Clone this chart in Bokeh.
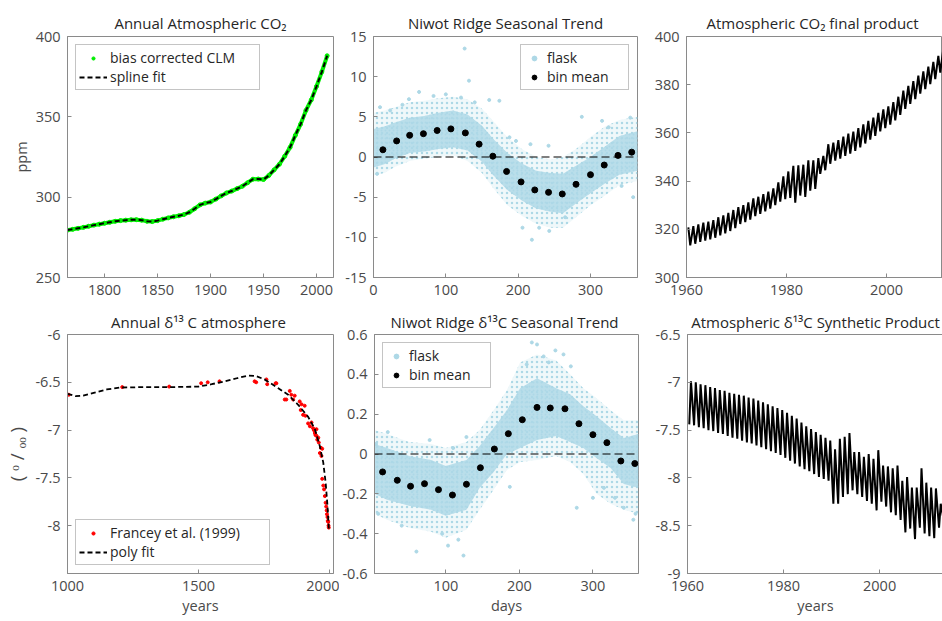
from bokeh.plotting import figure
from bokeh.layouts import row, column
from bokeh.models import FixedTicker, Span, PrintfTickFormatter
from bokeh.embed import file_html
from bokeh.resources import INLINE

# ---------------- data ----------------
# Panel 1: annual atmospheric CO2 (ppm)
co2_years = [1765, 1770, 1775, 1780, 1785, 1790, 1795, 1800, 1805, 1810, 1815, 1820,
             1825, 1830, 1835, 1840, 1845, 1850, 1855, 1860, 1865, 1870, 1875, 1880,
             1885, 1890, 1895, 1900, 1905, 1910, 1915, 1920, 1925, 1930, 1935, 1940,
             1945, 1950, 1955, 1960, 1965, 1970, 1975, 1980, 1985, 1990, 1995, 2000,
             2005, 2010]
co2_ppm = [279.5, 280.0, 280.6, 281.2, 281.9, 282.6, 283.2, 283.8, 284.4, 285.0, 285.4, 285.7,
           285.9, 286.0, 285.7, 285.0, 284.8, 285.4, 286.3, 287.1, 287.8, 288.4, 289.2, 290.6,
           292.8, 295.2, 296.3, 297.0, 298.8, 300.8, 302.6, 303.8, 305.3, 306.8, 309.0, 311.2,
           311.3, 311.0, 313.5, 317.0, 320.5, 325.5, 331.0, 338.5, 345.5, 354.0, 360.5, 369.0,
           378.0, 388.0]

# Panel 2: Niwot Ridge seasonal CO2 trend
p2_env_days = [0, 15, 30, 50, 70, 90, 110, 130, 150, 165, 185, 205, 225, 245, 262, 280, 300, 320, 340, 365]
p2_core_hi = [3.5, 3.8, 4.3, 4.9, 5.1, 5.5, 5.8, 5.3, 3.9, 2.3, 0.5, -0.8, -1.7, -2.0, -2.1, -1.1, 0.0, 1.3, 2.6, 3.2]
p2_core_lo = [-1.3, -0.9, -0.2, 0.5, 0.7, 1.0, 1.2, 0.8, -0.6, -2.2, -4.1, -5.4, -6.4, -6.8, -7.0, -5.8, -4.5, -3.3, -2.2, -1.7]
p2_outer_hi = [5.5, 5.8, 6.2, 6.8, 7.0, 7.3, 7.5, 7.2, 6.0, 4.5, 2.5, 1.0, 0.0, -0.3, 0.0, 1.0, 2.5, 3.8, 4.6, 5.0]
p2_outer_lo = [-2.3, -2.0, -1.2, -0.5, -0.2, 0.0, 0.2, -0.5, -2.0, -3.8, -6.0, -7.3, -8.3, -8.8, -8.8, -7.5, -6.0, -4.8, -3.5, -3.0]
p2_flask_days = [126, 132, 63, 83, 49, 121, 160, 174, 288, 188, 197, 217, 242, 219, 229, 243, 265,
                 206, 355, 359, 343, 5, 23, 9, 316, 325, 40, 100, 140]
p2_flask_vals = [13.5, 9.5, 8.1, 7.6, 7.2, 7.4, 7.1, 7.0, 5.0, 2.45, 2.0, 1.6, 1.4, -10.3, -8.8, -9.2, -7.5,
                 -8.8, 4.9, -5.0, -3.6, -2.1, 5.8, 6.2, 4.5, 3.7, 6.5, 7.8, 6.8]
p2_bin_days = [13, 32, 50, 69, 88, 107, 127, 146, 165, 184, 204, 223, 242, 261, 280, 300, 319, 338, 357]
p2_bin_mean = [0.9, 2.0, 2.7, 2.9, 3.3, 3.5, 3.0, 1.6, 0.1, -1.8, -3.1, -4.1, -4.4, -4.6, -3.4, -2.2, -1.0, 0.2, 0.6]

# Panel 3: atmospheric CO2 final product (annual peak / trough of the seasonal cycle)
co2f_years = list(range(1960, 2012))
co2f_peak = [320.8, 321.3, 322.0, 322.8, 323.2, 323.8, 325.0, 325.8, 326.8, 328.0,
             329.2, 330.0, 331.2, 332.8, 333.5, 334.6, 335.6, 337.0, 339.5, 342.0,
             344.0, 346.3, 346.5, 346.8, 348.6, 348.6, 349.5, 350.5, 355.3, 356.0,
             357.0, 358.5, 359.7, 360.5, 362.0, 363.5, 365.0, 366.3, 368.3, 369.8,
             371.0, 372.8, 375.0, 377.5, 379.5, 381.5, 383.8, 385.5, 387.5, 389.5,
             392.0, 395.0]
co2f_trough = [313.3, 314.0, 314.8, 315.3, 315.8, 316.5, 317.5, 318.3, 319.3, 320.5,
               322.2, 323.0, 324.0, 325.5, 326.4, 327.4, 328.6, 330.0, 331.5, 332.5,
               333.0, 331.0, 334.0, 333.4, 336.0, 336.8, 343.0, 344.5, 347.2, 348.5,
               349.3, 350.5, 351.4, 352.5, 354.0, 355.6, 357.2, 358.8, 360.6, 362.0,
               363.4, 365.2, 367.5, 370.0, 372.0, 374.0, 376.3, 378.2, 380.2, 382.3,
               385.0, 387.5]

# Panel 4: annual d13C atmosphere
d13_fit_years = [1000, 1030, 1060, 1100, 1150, 1200, 1300, 1400, 1500, 1550, 1600, 1650, 1690,
                 1720, 1752, 1803, 1842, 1880, 1918, 1944, 1963, 1976, 1985, 1992, 1997]
d13_fit = [-6.62, -6.645, -6.64, -6.61, -6.575, -6.555, -6.55, -6.55, -6.545, -6.52, -6.49, -6.455, -6.43,
           -6.435, -6.47, -6.56, -6.63, -6.735, -6.86, -6.99, -7.17, -7.34, -7.55, -7.79, -8.03]
francey_years = [1005, 1209, 1388, 1510, 1535, 1580, 1714, 1720, 1759, 1762, 1794, 1797, 1829, 1835,
                 1848, 1854, 1861, 1867, 1886, 1890, 1893, 1899, 1905, 1908, 1918, 1925, 1931, 1937,
                 1940, 1944, 1946, 1950, 1950, 1953, 1957, 1959, 1963, 1967, 1969, 1972, 1972, 1976,
                 1979, 1982, 1985, 1987, 1989, 1990, 1992, 1993, 1995, 1996, 1997]
francey_vals = [-6.63, -6.55, -6.545, -6.51, -6.50, -6.49, -6.49, -6.50, -6.47, -6.52, -6.51, -6.51, -6.68, -6.68,
                -6.59, -6.63, -6.68, -6.64, -6.70, -6.79, -6.73, -6.84, -6.745, -6.85, -6.93, -6.96, -6.92, -6.98,
                -7.00, -7.03, -7.05, -6.99, -7.06, -7.10, -7.08, -7.13, -7.24, -7.185, -7.27, -7.195, -7.51, -7.58,
                -7.62, -7.69, -7.76, -7.80, -7.84, -7.88, -7.91, -7.95, -7.96, -8.00, -8.02]

# Panel 5: Niwot Ridge seasonal d13C trend
p5_env_days = [3, 20, 50, 80, 100, 128, 146, 165, 183, 201, 224, 250, 269, 287, 305, 324, 342, 362]
p5_core_hi = [0.05, 0.03, -0.01, -0.03, -0.06, -0.03, 0.04, 0.13, 0.22, 0.33, 0.38, 0.33, 0.30, 0.24, 0.19, 0.13, 0.08, 0.10]
p5_core_lo = [-0.20, -0.23, -0.26, -0.28, -0.31, -0.28, -0.17, -0.09, 0.00, 0.03, 0.07, 0.09, 0.06, 0.03, -0.02, -0.07, -0.15, -0.17]
p5_outer_hi = [0.12, 0.10, 0.06, 0.05, 0.03, 0.06, 0.12, 0.22, 0.32, 0.46, 0.50, 0.47, 0.40, 0.33, 0.28, 0.22, 0.17, 0.17]
p5_outer_lo = [-0.30, -0.33, -0.37, -0.39, -0.42, -0.38, -0.28, -0.18, -0.08, -0.04, -0.03, -0.01, -0.04, -0.10, -0.20, -0.25, -0.28, -0.30]
p5_flask_days = [217, 224, 249, 260, 233, 210, 60, 124, 103, 117, 21, 78, 128, 110, 278, 315, 342, 358,
                 187, 8, 5, 40, 95, 300, 330, 355, 240, 270]
p5_flask_vals = [0.56, 0.55, 0.52, 0.50, 0.49, 0.45, -0.49, -0.51, -0.46, -0.43, 0.11, 0.07, 0.085, 0.03,
                 -0.27, -0.17, -0.27, -0.30, -0.165, -0.30, 0.05, -0.36, -0.40, -0.22, -0.22, -0.33, 0.46, 0.44]
p5_bin_days = [14, 34, 52, 71, 90, 109, 128, 147, 166, 185, 204, 224, 242, 262, 281, 300, 319, 338, 357]
p5_bin_mean = [-0.09, -0.132, -0.162, -0.149, -0.179, -0.206, -0.152, -0.069, 0.025, 0.102, 0.172, 0.234,
               0.231, 0.227, 0.152, 0.097, 0.057, -0.035, -0.048]

# Panel 6: atmospheric d13C synthetic product (annual high / low of the seasonal cycle)
d13s_years = list(range(1960, 2014))
d13s_hi = [-6.99, -7.00, -7.02, -7.03, -7.05, -7.06, -7.08, -7.09, -7.11, -7.12,
           -7.13, -7.14, -7.16, -7.17, -7.19, -7.21, -7.23, -7.25, -7.27, -7.29,
           -7.32, -7.35, -7.38, -7.42, -7.46, -7.49, -7.52, -7.55, -7.58, -7.61,
           -7.70, -7.59, -7.57, -7.53, -7.73, -7.73, -7.78, -7.75, -7.80, -7.71,
           -7.87, -7.88, -7.90, -7.87, -8.03, -7.99, -8.10, -8.10, -7.90, -8.05,
           -8.10, -8.11, -8.27, -8.38]
d13s_lo = [-7.44, -7.45, -7.47, -7.48, -7.50, -7.51, -7.53, -7.54, -7.56, -7.58,
           -7.59, -7.61, -7.63, -7.64, -7.66, -7.68, -7.70, -7.72, -7.74, -7.76,
           -7.79, -7.82, -7.85, -7.88, -7.91, -7.93, -7.96, -7.99, -8.01, -8.03,
           -8.27, -8.27, -8.20, -8.17, -8.13, -8.17, -8.20, -8.24, -8.27, -8.34,
           -8.25, -8.30, -8.36, -8.39, -8.44, -8.57, -8.53, -8.64, -8.52, -8.58,
           -8.61, -8.63, -8.52, -8.45]

# ---------------- styling ----------------
FONT = "Open Sans"
TXT = "#262626"
TICK = "#4a4a4a"
FRAME = "#8a8a8a"
LIGHTBLUE = "#add8e6"
TITLE_FS = "15px"
TICK_FS = "14.5px"
LEG_FS = "14px"


def make_fig(title, xr, yr, xt, yt, fw, fh, bl, br, bt, bb, title_standoff,
             xlab=None, ylab=None, ylab_fs=TICK_FS):
    p = figure(frame_width=fw, frame_height=fh, x_range=xr, y_range=yr,
               output_backend="svg", toolbar_location=None,
               min_border_left=bl, min_border_right=br,
               min_border_top=bt, min_border_bottom=bb,
               background_fill_color="white", border_fill_color="white")
    p.title.text = title
    p.title.align = "center"
    p.title.text_font = FONT
    p.title.text_font_size = TITLE_FS
    p.title.text_font_style = "normal"
    p.title.text_color = TXT
    p.title.standoff = title_standoff
    p.grid.visible = False
    p.outline_line_color = FRAME
    p.outline_line_width = 1
    p.outline_line_alpha = 1.0
    for ax, ticks in ((p.xaxis[0], xt), (p.yaxis[0], yt)):
        ax.ticker = FixedTicker(ticks=ticks)
        ax.formatter = PrintfTickFormatter(format="%g")
        ax.minor_tick_line_color = None
        ax.major_tick_in = 4
        ax.major_tick_out = 0
        ax.major_tick_line_color = FRAME
        ax.axis_line_color = FRAME
        ax.major_label_text_font = FONT
        ax.major_label_text_font_size = TICK_FS
        ax.major_label_text_color = TICK
        ax.major_label_standoff = 7
        ax.axis_label_text_font = FONT
        ax.axis_label_text_font_size = TICK_FS
        ax.axis_label_text_font_style = "normal"
        ax.axis_label_text_color = TICK
        ax.axis_label_standoff = 2
    if xlab:
        p.xaxis[0].axis_label = xlab
    if ylab:
        p.yaxis[0].axis_label = ylab
        p.yaxis[0].axis_label_text_font_size = ylab_fs
    return p


def style_legend(p, loc, glyph_w, glyph_h, label_w):
    lg = p.legend[0]
    lg.location = loc
    lg.margin = 8
    lg.padding = 3
    lg.spacing = 0
    lg.glyph_width = glyph_w
    lg.glyph_height = glyph_h
    lg.label_width = label_w
    lg.label_height = 16
    lg.label_standoff = 3
    lg.label_text_font = FONT
    lg.label_text_font_size = LEG_FS
    lg.label_text_color = TXT
    lg.border_line_color = FRAME
    lg.border_line_width = 1
    lg.background_fill_color = "white"
    lg.background_fill_alpha = 1.0


def cloud(p, days, outer_lo, outer_hi, core_lo, core_hi):
    p.varea(x=days, y1=outer_lo, y2=outer_hi, fill_color=LIGHTBLUE, fill_alpha=0.18,
            hatch_pattern="dot", hatch_color=LIGHTBLUE, hatch_scale=5, hatch_weight=2.2)
    p.varea(x=days, y1=core_lo, y2=core_hi, fill_color=LIGHTBLUE, fill_alpha=0.82,
            hatch_pattern="dot", hatch_color=LIGHTBLUE, hatch_scale=4, hatch_weight=2.5)


def zero_line(p):
    p.add_layout(Span(location=0, dimension="width", line_color="black",
                      line_width=1.2, line_dash="8 4"))


W1, W2, W3 = 266, 264, 256
H1, H2 = 241, 239

# ---- top row ----
p1 = make_fig("Annual Atmospheric CO₂", (1765, 2016), (250, 400),
              [1800, 1850, 1900, 1950, 2000], [250, 300, 350, 400],
              W1, H1, 67, 6, 36, 27, 8, ylab="ppm")
p1.line(co2_years, co2_ppm, line_color="#00ee00", line_width=4)
p1.scatter(co2_years, co2_ppm, size=4, color="#00ee00", legend_label="bias corrected CLM")
p1.line(co2_years, co2_ppm, line_color="black", line_width=2, line_dash="5 3", legend_label="spline fit")
style_legend(p1, "top_left", 28, 8, 146)

p2 = make_fig("Niwot Ridge Seasonal Trend", (0, 365), (-15, 15),
              [0, 100, 200, 300], [-15, -10, -5, 0, 5, 10, 15],
              W2, H1, 34, 7, 36, 27, 8)
cloud(p2, p2_env_days, p2_outer_lo, p2_outer_hi, p2_core_lo, p2_core_hi)
p2.scatter(p2_flask_days, p2_flask_vals, size=3, color=LIGHTBLUE, legend_label="flask")
zero_line(p2)
p2.scatter(p2_bin_days, p2_bin_mean, size=6, color="black", legend_label="bin mean")
style_legend(p2, "top_right", 20, 12, 78)

p3 = make_fig("Atmospheric CO₂  final product", (1960, 2011.2), (300, 400),
              [1960, 1980, 2000], [300, 320, 340, 360, 380, 400],
              W3, H1, 42, 0, 36, 27, 8)
x3, y3 = [], []
for yr, hi, lo in zip(co2f_years, co2f_peak, co2f_trough):
    x3 += [yr + 0.37, yr + 0.75]
    y3 += [hi, lo]
p3.line(x3, y3, line_color="black", line_width=2)

# ---- bottom row ----
p4 = make_fig("Annual  δ¹³ C atmosphere", (1000, 2015), (-8.5, -6),
              [1000, 1500, 2000], [-8, -7.5, -7, -6.5, -6],
              W1, H2, 67, 6, 30, 47, 5, xlab="years", ylab="( ᵒ / ₒₒ )", ylab_fs="19px")
p4.scatter(francey_years, francey_vals, size=3, color="red", legend_label="Francey et al. (1999)")
p4.line(d13_fit_years, d13_fit, line_color="black", line_width=1.8, line_dash="5 3", legend_label="poly fit")
style_legend(p4, "bottom_left", 28, 8, 156)

p5 = make_fig("Niwot Ridge δ¹³C  Seasonal Trend", (3, 362), (-0.6, 0.6),
              [100, 200, 300], [-0.6, -0.4, -0.2, 0, 0.2, 0.4, 0.6],
              W2, H2, 34, 7, 30, 47, 5, xlab="days")
cloud(p5, p5_env_days, p5_outer_lo, p5_outer_hi, p5_core_lo, p5_core_hi)
p5.scatter(p5_flask_days, p5_flask_vals, size=3, color=LIGHTBLUE, legend_label="flask")
zero_line(p5)
p5.scatter(p5_bin_days, p5_bin_mean, size=6, color="black", legend_label="bin mean")
style_legend(p5, "top_left", 20, 12, 78)

p6 = make_fig("Atmospheric δ¹³C Synthetic Product", (1960, 2013.3), (-9, -6.5),
              [1960, 1980, 2000], [-9, -8.5, -8, -7.5, -7, -6.5],
              W3, H2, 42, 0, 30, 47, 5, xlab="years")
x6, y6 = [], []
for yr, hi, lo in zip(d13s_years, d13s_hi, d13s_lo):
    x6 += [yr + 0.37, yr + 0.72]
    y6 += [lo, hi]
p6.line(x6, y6, line_color="black", line_width=2)

layout = column(row(p1, p2, p3), row(p4, p5, p6))
open("out.html", "w").write(file_html(layout, INLINE))
